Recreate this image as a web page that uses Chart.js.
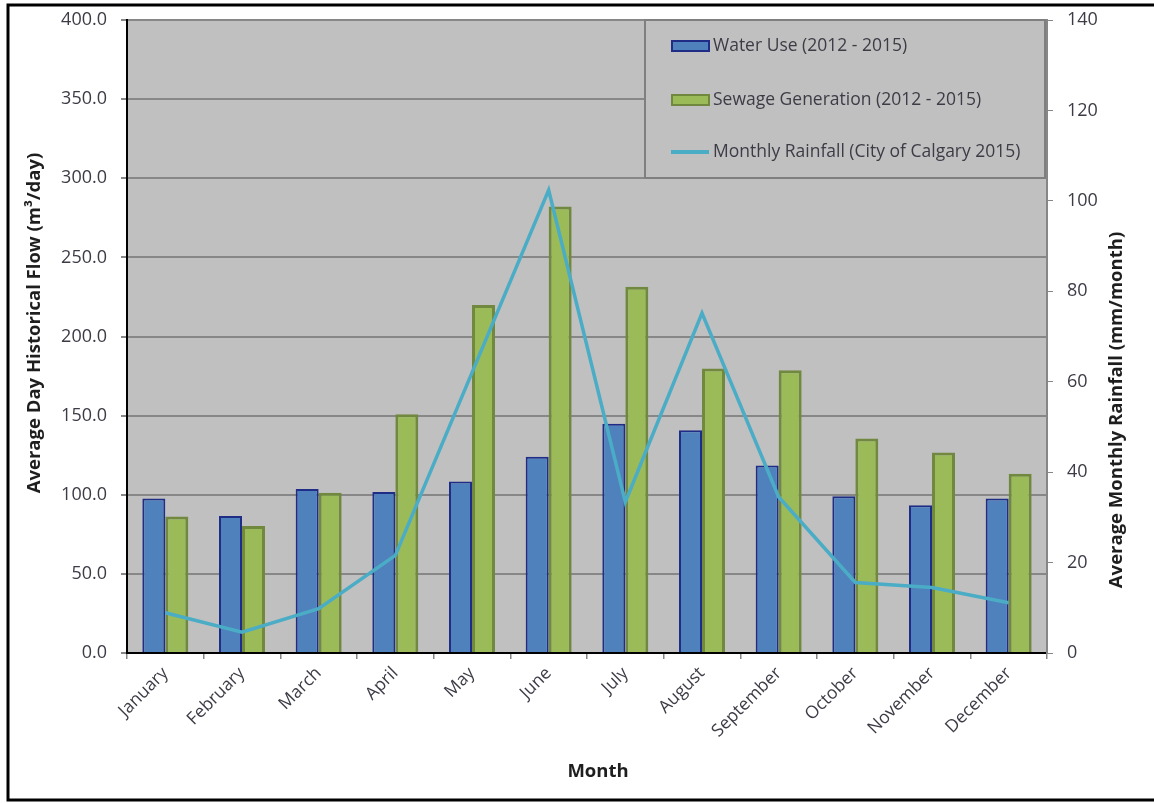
<!DOCTYPE html>
<html>
<head>
<meta charset="utf-8">
<script src="https://cdn.jsdelivr.net/npm/chart.js@4.4.1/dist/chart.umd.min.js"></script>
<style>
html, body { margin: 0; padding: 0; background: #fff; overflow: hidden; }
canvas { display: block; }
</style>
</head>
<body>
<canvas id="flowChart" width="1154" height="803"></canvas>
<script>
// monthly values
const months = ['January', 'February', 'March', 'April', 'May', 'June', 'July',
    'August', 'September', 'October', 'November', 'December'];
const waterUse = [97.7, 86.6, 103.6, 101.7, 108.4, 124.0, 144.9, 140.7, 118.5, 99.1, 93.4, 97.6];
const sewageGen = [86.2, 80.3, 101.3, 150.8, 219.9, 282.2, 231.5, 179.8, 178.7, 135.6, 126.7, 113.2];
const rainfall = [8.9, 4.6, 9.8, 21.6, 62.0, 102.4, 33.4, 75.2, 34.5, 15.6, 14.5, 11.1];

// axis ranges
const flowMax = 400, flowStep = 50;
const rainMax = 140, rainStep = 20;

const FONT = '"Open Sans", sans-serif';
const tickColor = '#3c3c46';
const titleColor = '#1e1e1e';

const legendItems = [
    { label: 'Water Use (2012 - 2015)', kind: 'bar', fill: '#4f81bd', stroke: '#1f2d86' },
    { label: 'Sewage Generation (2012 - 2015)', kind: 'bar', fill: '#9bbb59', stroke: '#71893f' },
    { label: 'Monthly Rainfall (City of Calgary 2015)', kind: 'line', stroke: '#4bacc6' }
];

// fixed axis boxes so the plot area lands where we want it
function fixVertical(width) {
    return s => {
        s.width = width;
        s.paddingTop = 0;
        s.paddingBottom = 0;
    };
}

// background, legend box, titles and outer frame
const decorPlugin = {
    id: 'decor',
    beforeDraw(chart) {
        const { ctx, chartArea: a } = chart;
        ctx.save();
        ctx.fillStyle = '#ffffff';
        ctx.fillRect(0, 0, chart.width, chart.height);
        ctx.fillStyle = '#c0c0c0';
        ctx.fillRect(a.left, a.top, a.right - a.left, a.bottom - a.top);
        ctx.restore();
    },
    afterDraw(chart) {
        const { ctx, chartArea: a } = chart;
        ctx.save();

        // legend
        const lx = 645, ly = a.top, lw = a.right - 645 - 2, lh = 158;
        ctx.fillStyle = '#c0c0c0';
        ctx.fillRect(lx, ly, lw, lh);
        ctx.strokeStyle = '#7f7f7f';
        ctx.lineWidth = 2;
        ctx.strokeRect(lx, ly, lw, lh);
        ctx.font = '17.5px ' + FONT;
        ctx.textBaseline = 'middle';
        ctx.textAlign = 'left';
        const rowY = [46, 100, 152];
        legendItems.forEach((it, i) => {
            const y = rowY[i];
            if (it.kind === 'bar') {
                ctx.fillStyle = it.fill;
                ctx.fillRect(672, y - 5, 37, 10);
                ctx.strokeStyle = it.stroke;
                ctx.lineWidth = 2;
                ctx.strokeRect(672, y - 5, 37, 10);
            } else {
                ctx.strokeStyle = it.stroke;
                ctx.lineWidth = 4;
                ctx.beginPath();
                ctx.moveTo(671, y);
                ctx.lineTo(709, y);
                ctx.stroke();
            }
            ctx.fillStyle = tickColor;
            ctx.fillText(it.label, 713, y);
        });

        // axis titles
        ctx.fillStyle = titleColor;
        ctx.font = 'bold 18.5px ' + FONT;
        ctx.textAlign = 'center';
        ctx.fillText('Month', 598, 772);

        ctx.translate(35, 323);
        ctx.rotate(-Math.PI / 2);
        ctx.fillText('Average Day Historical Flow (m³/day)', 0, 0);
        ctx.setTransform(1, 0, 0, 1, 0, 0);
        ctx.translate(1117, 410);
        ctx.rotate(-Math.PI / 2);
        ctx.fillText('Average Monthly Rainfall (mm/month)', 0, 0);
        ctx.setTransform(1, 0, 0, 1, 0, 0);

        // frame
        ctx.strokeStyle = '#000';
        ctx.lineWidth = 3;
        ctx.strokeRect(8, 5, 1170, 795);
        ctx.restore();
    }
};

const ctx = document.getElementById('flowChart').getContext('2d');
new Chart(ctx, {
    data: {
        labels: months,
        datasets: [
            {
                type: 'line',
                label: 'Monthly Rainfall (City of Calgary 2015)',
                data: rainfall,
                yAxisID: 'yRain',
                borderColor: '#4bacc6',
                borderWidth: 3.5,
                pointRadius: 0,
                tension: 0,
                order: 0
            },
            {
                type: 'bar',
                label: 'Water Use (2012 - 2015)',
                data: waterUse,
                yAxisID: 'yFlow',
                backgroundColor: '#4f81bd',
                borderColor: '#1f2d86',
                borderWidth: 2,
                categoryPercentage: 0.6,
                barPercentage: 1.0,
                order: 1
            },
            {
                type: 'bar',
                label: 'Sewage Generation (2012 - 2015)',
                data: sewageGen,
                yAxisID: 'yFlow',
                backgroundColor: '#9bbb59',
                borderColor: '#71893f',
                borderWidth: 3,
                categoryPercentage: 0.6,
                barPercentage: 1.0,
                order: 2
            }
        ]
    },
    options: {
        responsive: false,
        animation: false,
        layout: { padding: { left: 20, top: 20, right: 0, bottom: 0 } },
        plugins: {
            legend: { display: false },
            tooltip: { enabled: false }
        },
        scales: {
            x: {
                grid: { offset: true, drawOnChartArea: false, tickLength: 6, color: '#868686', lineWidth: 1.5 },
                border: { color: '#000', width: 2 },
                ticks: {
                    minRotation: 45, maxRotation: 45, padding: 4,
                    color: tickColor, font: { family: FONT, size: 17.5 }
                },
                afterFit: s => { s.height = 150; }
            },
            yFlow: {
                position: 'left',
                min: 0, max: flowMax,
                grid: { color: '#878787', lineWidth: 2, tickLength: 6 },
                border: { color: '#000', width: 2 },
                ticks: {
                    stepSize: flowStep, padding: 14, color: tickColor,
                    font: { family: FONT, size: 18 },
                    callback: v => v.toFixed(1)
                },
                afterFit: fixVertical(107)
            },
            yRain: {
                position: 'right',
                min: 0, max: rainMax,
                grid: { drawOnChartArea: false, color: '#868686', tickLength: 6 },
                border: { color: '#868686', width: 2 },
                ticks: {
                    stepSize: rainStep, padding: 14, color: tickColor,
                    font: { family: FONT, size: 18 }
                },
                afterFit: fixVertical(107)
            }
        }
    },
    plugins: [decorPlugin]
});
</script>
</body>
</html>
